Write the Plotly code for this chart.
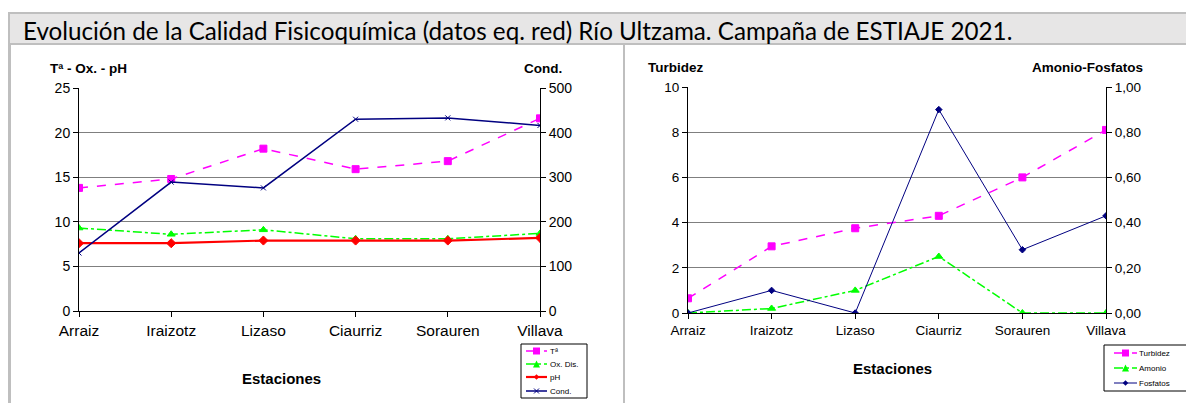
import plotly.graph_objects as go

# The page body has an 8px margin, so the figure is laid out in page pixels
# shifted by OFF and sized to fit the 1194x403 window.
PAGE_W, PAGE_H = 1194, 403
OFF = 8
W, H = PAGE_W - OFF, PAGE_H - OFF

stations = ["Arraiz", "Iraizotz", "Lizaso", "Ciaurriz", "Sorauren", "Villava"]
temp = [13.8, 14.8, 18.2, 15.9, 16.8, 21.6]
oxig = [9.3, 8.6, 9.1, 8.1, 8.1, 8.7]
ph = [7.6, 7.6, 7.9, 7.9, 7.9, 8.2]
cond = [130, 289, 276, 430, 433, 416]
turb = [0.65, 2.95, 3.75, 4.3, 6.0, 8.1]
amonio = [0.0, 0.02, 0.10, 0.25, 0.0, 0.0]
fosf = [0.0, 0.10, 0.0, 0.90, 0.28, 0.43]

left_ticks = [0, 5, 10, 15, 20, 25]
cond_ticks = [0, 100, 200, 300, 400, 500]
turb_ticks = [0, 2, 4, 6, 8, 10]
af_ticks = [0, 0.2, 0.4, 0.6, 0.8, 1.0]
af_labels = ["0,00", "0,20", "0,40", "0,60", "0,80", "1,00"]

MAG, GRN, RED, NAVY = "#FF00FF", "#00FF00", "#FF0000", "#000080"
AX = "Liberation Sans, Arial, sans-serif"

STY = {
    "Tª": dict(color=MAG, dash="dash", width=1.5, symbol="square", size=7),
    "Ox. Dis.": dict(color=GRN, dash="dashdot", width=1.5, symbol="triangle-up", size=7),
    "pH": dict(color=RED, dash="solid", width=2.2, symbol="diamond", size=7),
    "Cond.": dict(color=NAVY, dash="solid", width=1.5, symbol="x-thin", size=5),
    "Turbidez": dict(color=MAG, dash="dash", width=1.5, symbol="square", size=7),
    "Amonio": dict(color=GRN, dash="dashdot", width=1.5, symbol="triangle-up", size=7),
    "Fosfatos": dict(color=NAVY, dash="solid", width=1, symbol="diamond", size=5),
}


def px(x):
    return (x - OFF) / W


def py(y):
    return 1 - (y - OFF) / H


fig = go.Figure()


def add(name, yvals, xa, ya):
    s = STY[name]
    fig.add_trace(go.Scatter(
        x=stations, y=yvals, name=name, mode="lines+markers",
        line=dict(color=s["color"], width=s["width"], dash=s["dash"]),
        marker=dict(symbol=s["symbol"], size=s["size"], color=s["color"],
                    line=dict(color=s["color"], width=1)),
        xaxis=xa, yaxis=ya, showlegend=False))


add("Tª", temp, "x", "y")
add("Ox. Dis.", oxig, "x", "y")
add("pH", ph, "x", "y")
add("Cond.", cond, "x", "y2")
add("Turbidez", turb, "x3", "y3")
add("Amonio", amonio, "x3", "y4")
add("Fosfatos", fosf, "x3", "y4")

grid = dict(showgrid=True, gridcolor="#7F7F7F", gridwidth=1)
common_y = dict(showline=True, linecolor="black", linewidth=1, ticks="outside",
                ticklen=5, tickcolor="black", zeroline=False, fixedrange=True,
                automargin=False)
common_x = dict(type="category", range=[0, 5], showline=True, linecolor="black",
                linewidth=1, ticks="outside", ticklen=5, tickcolor="black",
                showgrid=False, automargin=False, fixedrange=True)

L_dom_x = [px(79), px(540)]
L_dom_y = [py(311), py(88)]
R_dom_x = [px(688), px(1106)]
R_dom_y = [py(313), py(87)]

fig.update_layout(
    width=W, height=H,
    margin=dict(l=0, r=0, t=0, b=0, pad=0, autoexpand=False),
    paper_bgcolor="white", plot_bgcolor="white",
    showlegend=False,
    xaxis=dict(domain=L_dom_x, anchor="y",
               tickfont=dict(family=AX, size=15.5, color="black"), **common_x),
    yaxis=dict(domain=L_dom_y, range=[0, 25], tickvals=left_ticks, anchor="x",
               tickfont=dict(family=AX, size=14, color="black"), **grid, **common_y),
    yaxis2=dict(range=[0, 500], tickvals=cond_ticks, overlaying="y", side="right",
                anchor="x", showgrid=False,
                tickfont=dict(family=AX, size=14, color="black"), **common_y),
    xaxis3=dict(domain=R_dom_x, anchor="y3",
                tickfont=dict(family=AX, size=13.5, color="black"), **common_x),
    yaxis3=dict(domain=R_dom_y, range=[0, 10], tickvals=turb_ticks, anchor="x3",
                tickfont=dict(family=AX, size=13.5, color="black"), **grid, **common_y),
    yaxis4=dict(range=[0, 1], tickvals=af_ticks, ticktext=af_labels, overlaying="y3",
                side="right", anchor="x3", showgrid=False,
                tickfont=dict(family=AX, size=13.5, color="black"), **common_y),
)

shapes = [
    dict(type="rect", x0=px(9), x1=1.0, y0=py(44), y1=py(13),
         fillcolor="#E7E6E6", line=dict(color="#BFBFBF", width=2), layer="below"),
    dict(type="line", x0=px(9.5), x1=px(9.5), y0=py(44), y1=0,
         line=dict(color="#BFBFBF", width=3)),
    dict(type="line", x0=px(624), x1=px(624), y0=py(44), y1=0,
         line=dict(color="#BFBFBF", width=2)),
]

ann = [
    dict(text="Evolución de la Calidad Fisicoquímica (datos eq. red) Río Ultzama. Campaña de ESTIAJE 2021.",
         x=px(21), y=py(31), xanchor="left", yanchor="middle",
         font=dict(family="Lato, Carlito, Calibri, sans-serif", size=24.2, color="black")),
    dict(text="<b>Tª - Ox. - pH</b>", x=px(48), y=py(68), xanchor="left", yanchor="middle",
         font=dict(family=AX, size=13.5, color="black")),
    dict(text="<b>Cond.</b>", x=px(564), y=py(68), xanchor="right", yanchor="middle",
         font=dict(family=AX, size=13.5, color="black")),
    dict(text="<b>Estaciones</b>", x=px(281), y=py(378), xanchor="center", yanchor="middle",
         font=dict(family=AX, size=15, color="black")),
    dict(text="<b>Turbidez</b>", x=px(646), y=py(67), xanchor="left", yanchor="middle",
         font=dict(family=AX, size=13.5, color="black")),
    dict(text="<b>Amonio-Fosfatos</b>", x=px(1145), y=py(67), xanchor="right", yanchor="middle",
         font=dict(family=AX, size=13.5, color="black")),
    dict(text="<b>Estaciones</b>", x=px(892), y=py(368), xanchor="center", yanchor="middle",
         font=dict(family=AX, size=15, color="black")),
]


def marker_shape(sym, cx, cy, r, color):
    if sym == "square":
        return dict(type="rect", x0=px(cx - r), x1=px(cx + r), y0=py(cy + r), y1=py(cy - r),
                    fillcolor=color, line=dict(color=color, width=0))
    if sym == "triangle-up":
        p = f"M{px(cx - r)},{py(cy + r)} L{px(cx + r)},{py(cy + r)} L{px(cx)},{py(cy - r)} Z"
        return dict(type="path", path=p, fillcolor=color, line=dict(color=color, width=0))
    if sym == "diamond":
        p = (f"M{px(cx - r)},{py(cy)} L{px(cx)},{py(cy - r)} L{px(cx + r)},{py(cy)} "
             f"L{px(cx)},{py(cy + r)} Z")
        return dict(type="path", path=p, fillcolor=color, line=dict(color=color, width=0))
    p = (f"M{px(cx - r)},{py(cy - r)} L{px(cx + r)},{py(cy + r)} "
         f"M{px(cx - r)},{py(cy + r)} L{px(cx + r)},{py(cy - r)}")
    return dict(type="path", path=p, line=dict(color=color, width=1))


def legend_box(names, box, rows, lx0, lx1, tx, fs):
    x0, y0, x1, y1 = box
    shapes.append(dict(type="rect", x0=px(x0), x1=px(x1), y0=py(y1), y1=py(y0),
                       fillcolor="white", line=dict(color="black", width=1)))
    for name, yy in zip(names, rows):
        s = STY[name]
        shapes.append(dict(type="line", x0=px(lx0), x1=px(lx1), y0=py(yy), y1=py(yy),
                           line=dict(color=s["color"], width=s["width"], dash=s["dash"])))
        r = 3.5 if s["symbol"] in ("square", "triangle-up") else 2.8
        if s["symbol"] == "x-thin":
            r = 2.5
        shapes.append(marker_shape(s["symbol"], (lx0 + lx1) / 2, yy, r, s["color"]))
        ann.append(dict(text=name, x=px(tx), y=py(yy), xanchor="left", yanchor="middle",
                        font=dict(family=AX, size=fs, color="black")))


legend_box(["Tª", "Ox. Dis.", "pH", "Cond."], (521, 344, 587, 398),
           [351, 364, 377, 391], 526, 547, 548, 8)
legend_box(["Turbidez", "Amonio", "Fosfatos"], (1104, 345, 1189, 391),
           [353, 368, 383], 1114, 1137, 1137, 8)

for s in shapes:
    s.update(xref="paper", yref="paper")
for a in ann:
    a.update(xref="paper", yref="paper", showarrow=False)
fig.update_layout(shapes=shapes, annotations=ann)

fig.write_html("out.html")
